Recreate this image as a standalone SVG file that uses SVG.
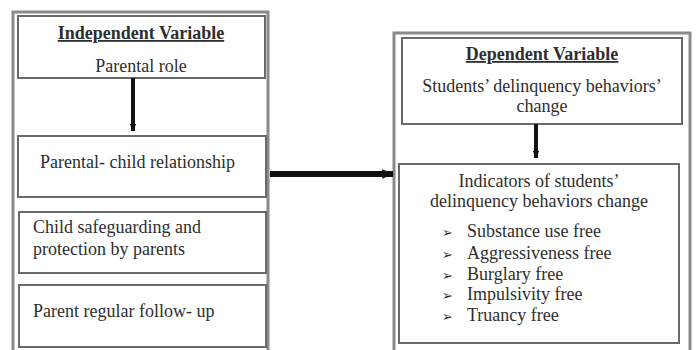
<svg xmlns="http://www.w3.org/2000/svg" width="696" height="350" viewBox="0 0 696 350">
<defs>
<style>
text{font-family:"Liberation Serif",serif;font-size:18px;fill:#2e2e2e}
.h{font-weight:bold;text-decoration:underline;font-size:18px}
.c{text-anchor:middle}
.b{font-size:13px}
.outer{fill:none;stroke:#8a8a8a;stroke-width:3}
.box{fill:#fff;stroke:#6a6a6a;stroke-width:2}
.conn{stroke:#111;fill:none}
</style>
<marker id="ahs" viewBox="0 0 10 10" refX="9" refY="5" markerWidth="2" markerHeight="2" orient="auto" markerUnits="strokeWidth">
<path d="M0,1 L10,5 L0,9 z" fill="#111"/>
</marker>
</defs>
<rect width="696" height="350" fill="#fff"/>
<g id="independent-frame"><rect class="outer" x="13" y="12" width="255" height="345"/></g>
<g id="dependent-frame"><rect class="outer" x="394" y="33" width="296" height="324"/></g>
<g id="parental-role">
<rect class="box" x="18" y="16" width="247" height="62"/>
<text class="c h" x="141" y="39">Independent Variable</text>
<text class="c" x="141" y="72">Parental role</text>
</g>
<g id="parent-child">
<rect class="box" x="18" y="136" width="248" height="61"/>
<text x="40" y="168">Parental- child relationship</text>
</g>
<g id="safeguarding">
<rect class="box" x="19" y="212" width="247" height="61"/>
<text x="33" y="233">Child safeguarding and</text>
<text x="33" y="255">protection by parents</text>
</g>
<g id="follow-up">
<rect class="box" x="19" y="285" width="247" height="62"/>
<text x="33" y="317">Parent regular follow- up</text>
</g>
<g id="delinquency-change">
<rect class="box" x="402" y="38" width="280" height="86"/>
<text class="c h" x="542" y="60">Dependent Variable</text>
<text class="c" x="542" y="92">Students’ delinquency behaviors’</text>
<text class="c" x="542" y="112">change</text>
</g>
<g id="indicators">
<rect class="box" x="399" y="164" width="280" height="179"/>
<text class="c" x="539" y="187">Indicators of students’</text>
<text class="c" x="539" y="207">delinquency behaviors change</text>
<text class="b" x="442" y="237">➢</text>
<text class="b" x="442" y="259">➢</text>
<text class="b" x="442" y="280">➢</text>
<text class="b" x="442" y="300">➢</text>
<text class="b" x="442" y="321">➢</text>
<text x="467" y="237">Substance use free</text>
<text x="467" y="259">Aggressiveness free</text>
<text x="467" y="280">Burglary free</text>
<text x="467" y="300">Impulsivity free</text>
<text x="467" y="321">Truancy free</text>
</g>
<g id="connectors">
<line class="conn" x1="133" y1="78" x2="133" y2="131" stroke-width="4" marker-end="url(#ahs)"/>
<line class="conn" x1="536" y1="124" x2="536" y2="158" stroke-width="4" marker-end="url(#ahs)"/>
<line class="conn" x1="270" y1="174" x2="393" y2="174" stroke-width="6" marker-end="url(#ahs)"/>
</g>
</svg>
